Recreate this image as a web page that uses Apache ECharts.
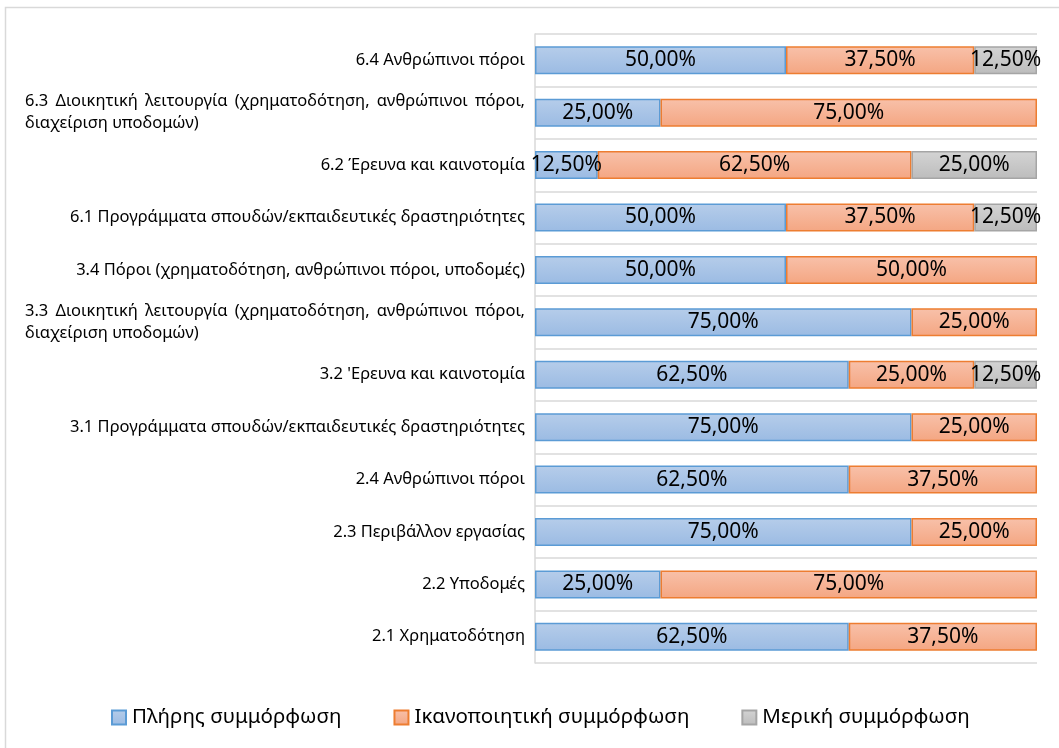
<!DOCTYPE html>
<html>
<head>
<meta charset="utf-8">
<script src="https://cdn.jsdelivr.net/npm/echarts@6/dist/echarts.min.js"></script>
<style>
  html, body { margin: 0; padding: 0; background: #ffffff; }
  #chart { width: 1059px; height: 748px; }
</style>
</head>
<body>
<div id="chart"></div>
<script>
// Criteria, listed top to bottom
const categories = [
  '6.4 Ανθρώπινοι πόροι',
  '6.3 Διοικητική λειτουργία (χρηματοδότηση, ανθρώπινοι πόροι, διαχείριση υποδομών)',
  '6.2 Έρευνα και καινοτομία',
  '6.1 Προγράμματα σπουδών/εκπαιδευτικές δραστηριότητες',
  '3.4 Πόροι (χρηματοδότηση, ανθρώπινοι πόροι, υποδομές)',
  '3.3 Διοικητική λειτουργία (χρηματοδότηση, ανθρώπινοι πόροι, διαχείριση υποδομών)',
  "3.2 'Ερευνα και καινοτομία",
  '3.1 Προγράμματα σπουδών/εκπαιδευτικές δραστηριότητες',
  '2.4 Ανθρώπινοι πόροι',
  '2.3 Περιβάλλον εργασίας',
  '2.2 Υποδομές',
  '2.1 Χρηματοδότηση'
];

const seriesNames = ['Πλήρης συμμόρφωση', 'Ικανοποιητική συμμόρφωση', 'Μερική συμμόρφωση'];

// Percentages per criterion
const full      = [50, 25, 12.5, 50, 50, 75, 62.5, 75, 62.5, 75, 25, 62.5];
const adequate  = [37.5, 75, 62.5, 37.5, 50, 25, 25, 25, 37.5, 25, 75, 37.5];
const partial   = [12.5, 0, 25, 12.5, 0, 0, 12.5, 0, 0, 0, 0, 0];

const LABEL_FONT = 'Noto Sans';
const LABEL_SIZE = 16.5;
const WRAP_WIDTH = 500;

// Measure words so the first line of a wrapped label can be justified
const measureCtx = document.createElement('canvas').getContext('2d');
measureCtx.font = LABEL_SIZE + 'px "' + LABEL_FONT + '"';
function textWidth(s) { return measureCtx.measureText(s).width; }

const richStyles = {
  w: { fontFamily: LABEL_FONT, fontSize: LABEL_SIZE, color: '#000', lineHeight: 22 },
  l2: { fontFamily: LABEL_FONT, fontSize: LABEL_SIZE, color: '#000', lineHeight: 22, width: WRAP_WIDTH, align: 'left' }
};
let gapIndex = 0;
const wrapped = {};
function buildWrapped(name) {
  const cut = name.indexOf('πόροι,') + 'πόροι,'.length;
  const first = name.slice(0, cut).trim();
  const second = name.slice(cut).trim();
  const words = first.split(' ');
  const used = words.reduce((a, w) => a + textWidth(w), 0);
  const gap = (WRAP_WIDTH - used) / (words.length - 1);
  const key = 'g' + (gapIndex++);
  richStyles[key] = { width: gap, lineHeight: 22, fontSize: LABEL_SIZE };
  return words.map(w => '{w|' + w + '}').join('{' + key + '| }') + '\n{l2|' + second + '}';
}
categories.forEach(c => { if (c.indexOf('διαχείριση') >= 0) wrapped[c] = buildWrapped(c); });

function pct(v) { return v.toFixed(2).replace('.', ',') + '%'; }

function grad(top, bottom) {
  return new echarts.graphic.LinearGradient(0, 0, 0, 1, [
    { offset: 0, color: top }, { offset: 1, color: bottom }
  ]);
}

const styles = [
  { fill: grad('#b6cdea', '#9bbbe3'), border: '#5b9bd5' },
  { fill: grad('#f8c1aa', '#f4a682'), border: '#ed7d31' },
  { fill: grad('#d4d4d4', '#bcbcbc'), border: '#a5a5a5' }
];
const values = [full, adequate, partial];

const chart = echarts.init(document.getElementById('chart'));
chart.setOption({
  animation: false,
  backgroundColor: '#ffffff',
  graphic: [{
    type: 'rect', left: 3, top: 5, z: -10,
    shape: { width: 1120, height: 800 },
    style: { fill: 'none', stroke: '#d9d9d9', lineWidth: 1.5 }
  }],
  grid: { left: 535, right: 22, top: 34, bottom: 85, containLabel: false },
  xAxis: {
    type: 'value', min: 0, max: 100,
    axisLabel: { show: false }, axisLine: { show: false },
    axisTick: { show: false }, splitLine: { show: false }
  },
  yAxis: {
    type: 'category', inverse: true, data: categories,
    axisLine: { show: true, lineStyle: { color: '#d9d9d9', width: 1.5 } },
    axisTick: { show: false },
    splitLine: { show: true, lineStyle: { color: '#d9d9d9', width: 1.5 } },
    axisLabel: {
      margin: 10, color: '#000', fontFamily: LABEL_FONT, fontSize: LABEL_SIZE,
      formatter: v => wrapped[v] || v,
      rich: richStyles
    }
  },
  legend: {
    top: 702, left: 106, itemGap: 52,
    itemWidth: 14, itemHeight: 14, icon: 'rect',
    textStyle: { fontFamily: LABEL_FONT, fontSize: 20.5, color: '#000', padding: [0, 0, 0, 1] },
    data: seriesNames
  },
  series: seriesNames.map((name, i) => ({
    name, type: 'bar', stack: 'total', barWidth: 28,
    itemStyle: { color: styles[i].fill, borderColor: styles[i].border, borderWidth: 1.5 },
    label: {
      show: true, position: 'inside', color: '#000',
      fontFamily: LABEL_FONT, fontSize: 21,
      formatter: p => p.value > 0 ? pct(p.value) : ''
    },
    data: values[i].map(v => v > 0 ? v : null)
  }))
});
</script>
</body>
</html>
